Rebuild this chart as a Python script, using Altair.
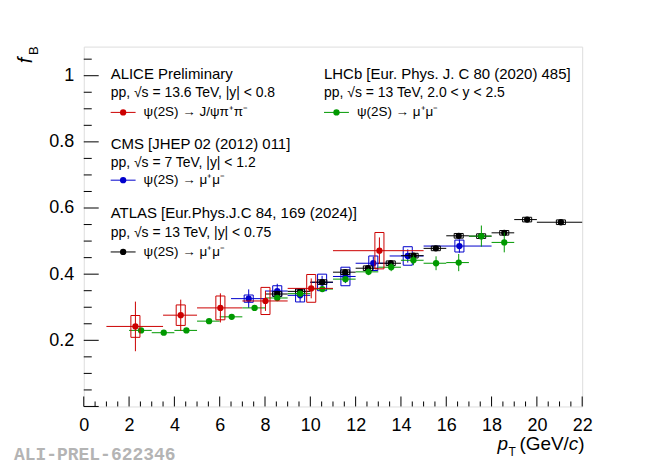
import altair as alt
import pandas as pd
import numpy as np

# ---------------- data ----------------
# ALICE Preliminary, pp 13.6 TeV, |y|<0.8, psi(2S) -> J/psi pi+ pi-
alice_x = [2.28, 4.28, 6.03, 8.02, 10.04, 13.05]
alice_lo = [1.0, 3.5, 5.0, 7.0, 9.0, 11.0]
alice_hi = [3.5, 5.0, 7.0, 9.0, 11.0, 15.0]
alice_y = [0.242, 0.276, 0.298, 0.319, 0.357, 0.471]
alice_stat = [0.075, 0.047, 0.044, 0.030, 0.030, 0.040]
alice_sys = [0.033, 0.031, 0.036, 0.041, 0.042, 0.055]

# CMS, pp 7 TeV, |y|<1.2
cms_x = [7.28, 8.54, 9.55, 10.52, 11.55, 12.78, 14.30, 16.58]
cms_lo = [6.5, 8.0, 9.0, 10.0, 11.0, 12.0, 13.5, 15.0]
cms_hi = [8.0, 9.0, 10.0, 11.0, 12.0, 13.5, 15.0, 18.0]
cms_y = [0.326, 0.349, 0.336, 0.375, 0.393, 0.433, 0.455, 0.485]
cms_stat = [0.028, 0.022, 0.020, 0.020, 0.020, 0.020, 0.020, 0.020]
cms_sys = [0.011, 0.016, 0.020, 0.025, 0.028, 0.022, 0.028, 0.018]

# ATLAS, pp 13 TeV, |y|<0.75
atlas_x = [8.54, 9.55, 10.53, 11.54, 12.54, 13.55, 14.56, 15.54, 16.55, 17.54, 18.56, 19.57, 21.06]
atlas_lo = [8, 9, 10, 11, 12, 13, 14, 15, 16, 17, 18, 19, 20]
atlas_hi = [9, 10, 11, 12, 13, 14, 15, 16, 17, 18, 19, 20, 22]
atlas_y = [0.340, 0.348, 0.376, 0.406, 0.418, 0.433, 0.456, 0.478, 0.516, 0.515, 0.525, 0.565, 0.557]
atlas_stat = [0.004, 0.004, 0.004, 0.004, 0.004, 0.004, 0.004, 0.005, 0.005, 0.005, 0.005, 0.005, 0.005]
atlas_sys = [0.007, 0.007, 0.007, 0.007, 0.007, 0.007, 0.007, 0.007, 0.007, 0.007, 0.007, 0.007, 0.007]

# LHCb, pp 13 TeV, 2.0<y<2.5
lhcb_x = [2.53, 3.53, 4.53, 5.53, 6.53, 7.54, 8.54, 9.55, 10.53, 11.55, 12.57, 13.57, 14.55, 15.55, 16.55, 17.55, 18.56]
lhcb_lo = [2, 3, 4, 5, 6, 7, 8, 9, 10, 11, 12, 13, 14, 15, 16, 17, 18]
lhcb_hi = [3, 4, 5, 6, 7, 8, 9, 10, 11, 12, 13, 14, 15, 16, 17, 18, 19]
lhcb_y = [0.230, 0.223, 0.230, 0.258, 0.271, 0.298, 0.328, 0.341, 0.355, 0.385, 0.407, 0.421, 0.442, 0.433, 0.435, 0.515, 0.496]
lhcb_stat = [0.005, 0.005, 0.005, 0.005, 0.005, 0.006, 0.007, 0.007, 0.008, 0.009, 0.010, 0.012, 0.015, 0.021, 0.026, 0.032, 0.030]

x_tick_labels = [0, 2, 4, 6, 8, 10, 12, 14, 16, 18, 20, 22]
y_tick_labels = [0.2, 0.4, 0.6, 0.8, 1.0]

# ---------------- styling ----------------
W, H = 500, 361
FONT = "Liberation Sans"
RED, BLUE, GREEN, BLACK = "#cc0000", "#0000cc", "#009900", "#000000"
BOX_HW = 0.2
XDOM = [0, 22]
YDOM = [0, 1.088]
MS = 40

xs = alt.Scale(domain=XDOM, nice=False, zero=False)
ys = alt.Scale(domain=YDOM, nice=False, zero=False)
AX = alt.Axis(values=x_tick_labels, format="d", ticks=False, tickSize=0, domain=False, grid=False,
              title=None, labelFont=FONT, labelFontSize=18, labelColor="black", labelPadding=10,
              labelOverlap=False, labelFlush=False)
AY = alt.Axis(values=y_tick_labels, format="~g", ticks=False, tickSize=0, domain=False, grid=False,
              title=None, labelFont=FONT, labelFontSize=18, labelColor="black", labelPadding=10,
              labelOverlap=False, labelFlush=False)


def X(f):
    return alt.X(f, scale=xs, axis=AX)


def Y(f):
    return alt.Y(f, scale=ys, axis=AY)


def frame(x, lo, hi, y, stat, sys=None):
    d = pd.DataFrame({"x": x, "xlo": lo, "xhi": hi, "y": y})
    d["ylo"] = d["y"] - np.array(stat)
    d["yhi"] = d["y"] + np.array(stat)
    if sys is not None:
        d["blo"] = d["y"] - np.array(sys)
        d["bhi"] = d["y"] + np.array(sys)
        d["bxlo"] = d["x"] - BOX_HW
        d["bxhi"] = d["x"] + BOX_HW
    return d


def series(d, color, boxes=True):
    base = alt.Chart(d)
    hbar = base.mark_rule(color=color, strokeWidth=1).encode(x=X("xlo:Q"), x2="xhi:Q", y=Y("y:Q"))
    vbar = base.mark_rule(color=color, strokeWidth=1).encode(x=X("x:Q"), y=Y("ylo:Q"), y2="yhi:Q")
    layers = [hbar, vbar]
    if boxes:
        box = base.mark_rect(fillOpacity=0, stroke=color, strokeWidth=1).encode(
            x=X("bxlo:Q"), x2="bxhi:Q", y=Y("blo:Q"), y2="bhi:Q")
        layers.append(box)
    pts = base.mark_circle(color=color, opacity=1, size=MS).encode(x=X("x:Q"), y=Y("y:Q"))
    layers.append(pts)
    return layers


d_alice = frame(alice_x, alice_lo, alice_hi, alice_y, alice_stat, alice_sys)
d_cms = frame(cms_x, cms_lo, cms_hi, cms_y, cms_stat, cms_sys)
d_atlas = frame(atlas_x, atlas_lo, atlas_hi, atlas_y, atlas_stat, atlas_sys)
d_lhcb = frame(lhcb_x, lhcb_lo, lhcb_hi, lhcb_y, lhcb_stat)

# inward ticks
xt = np.round(np.arange(0, 22.001, 0.5), 2)
xt_major = pd.DataFrame({"t": [v for v in xt if abs(v / 2 - round(v / 2)) < 1e-9]})
xt_minor = pd.DataFrame({"t": [v for v in xt if abs(v / 2 - round(v / 2)) >= 1e-9]})
yt = np.round(np.arange(0, 1.0501, 0.05), 3)
yt_major = pd.DataFrame({"t": [v for v in yt if abs(v / 0.2 - round(v / 0.2)) < 1e-6]})
yt_minor = pd.DataFrame({"t": [v for v in yt if abs(v / 0.2 - round(v / 0.2)) >= 1e-6]})

tick_layers = [
    alt.Chart(xt_major).mark_rule(color="black", strokeWidth=1).encode(
        x=X("t:Q"), y=alt.value(H), y2=alt.value(H - 10)),
    alt.Chart(xt_minor).mark_rule(color="black", strokeWidth=1).encode(
        x=X("t:Q"), y=alt.value(H), y2=alt.value(H - 5)),
    alt.Chart(yt_major).mark_rule(color="black", strokeWidth=1).encode(
        y=Y("t:Q"), x=alt.value(0), x2=alt.value(15)),
    alt.Chart(yt_minor).mark_rule(color="black", strokeWidth=1).encode(
        y=Y("t:Q"), x=alt.value(0), x2=alt.value(8)),
]

dummy = pd.DataFrame({"d": [0]})


def txt(s, x, y, size, align="left", font=FONT, color="black", **kw):
    return alt.Chart(dummy).mark_text(text=s, align=align, baseline="middle", fontSize=size,
                                      font=font, color=color, **kw).encode(
        x=alt.value(x), y=alt.value(y))


def entry(x, y, color, label):
    line = alt.Chart(dummy).mark_rule(color=color, strokeWidth=1).encode(
        x=alt.value(x), x2=alt.value(x + 25), y=alt.value(y))
    dot = alt.Chart(dummy).mark_circle(color=color, opacity=1, size=MS).encode(
        x=alt.value(x + 12.5), y=alt.value(y))
    return [line, dot, txt(label, x + 33, y, 13.5)]


SUB = 14
ann = []
# ALICE block
ann += [txt("ALICE Preliminary", 27, 28, 15),
        txt("pp, √s = 13.6 TeV, |y| < 0.8", 27, 47, SUB)]
ann += entry(27, 66, RED, "ψ(2S) → J/ψπ⁺π⁻")
# CMS block
ann += [txt("CMS [JHEP 02 (2012) 011]", 27, 98, 15),
        txt("pp, √s = 7 TeV, |y| < 1.2", 27, 117, SUB)]
ann += entry(27, 134, BLUE, "ψ(2S) → μ⁺μ⁻")
# ATLAS block
ann += [txt("ATLAS [Eur.Phys.J.C 84, 169 (2024)]", 27, 167, 15),
        txt("pp, √s = 13 TeV, |y| < 0.75", 27, 187, SUB)]
ann += entry(27, 206, BLACK, "ψ(2S) → μ⁺μ⁻")
# LHCb block
ann += [txt("LHCb [Eur. Phys. J. C 80 (2020) 485]", 241, 28, 15),
        txt("pp, √s = 13 TeV, 2.0 < y < 2.5", 241, 47, SUB)]
ann += entry(241, 66, GREEN, "ψ(2S) → μ⁺μ⁻")

# axis titles
TY = 399
ann += [
    txt("f", -58, 14, 20, align="center", angle=270, fontStyle="italic"),
    txt("B", -50, 4, 13, align="center", angle=270),
    txt("p", 415, TY, 19, align="left", fontStyle="italic"),
    txt("T", 426, TY + 8, 12, align="left"),
    txt("(GeV/", 437, TY, 19, align="left"),
    txt("c", 486.5, TY, 19, align="left", fontStyle="italic"),
    txt(")", 496, TY, 19, align="left"),
    txt("ALI-PREL-622346", 92, 410, 18, align="right", font="Liberation Mono",
        fontWeight="bold", color="#b4b4b4"),
]

layers = tick_layers[:]
for d, c, b in [(d_cms, BLUE, True), (d_atlas, BLACK, True), (d_lhcb, GREEN, False), (d_alice, RED, True)]:
    layers += series(d, c, b)
layers += ann

chart = alt.layer(*layers).properties(
    width=W, height=H,
    padding={"left": 76, "top": 38, "right": 60, "bottom": 60},
    autosize=alt.AutoSizeParams(type="none"),
).configure_view(stroke="black", strokeWidth=1).configure(background="white")

chart.save("out.html", embed_options={"renderer": "svg", "actions": False})
